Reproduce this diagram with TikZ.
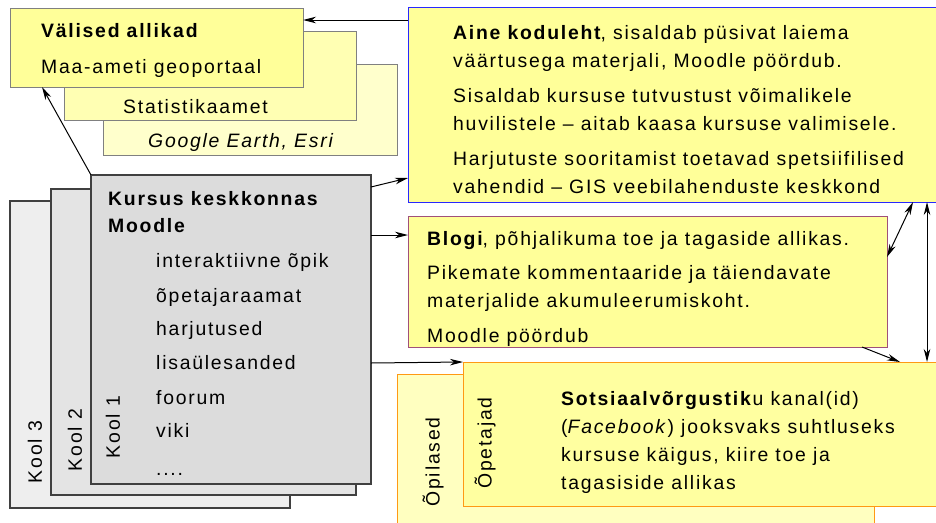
\documentclass[tikz,border=0pt]{standalone}
\usepackage{fontspec}
\setmainfont{Liberation Sans}[LetterSpace=9]
\usetikzlibrary{arrows.meta}
\definecolor{yelA}{RGB}{255,255,153}
\definecolor{yelB}{RGB}{255,255,179}
\definecolor{yelC}{RGB}{255,255,204}
\definecolor{yelO}{RGB}{255,255,160}
\definecolor{yelP}{RGB}{255,255,192}
\definecolor{grayln}{RGB}{128,128,128}
\definecolor{blueln}{RGB}{40,40,255}
\definecolor{pinkln}{RGB}{160,80,122}
\definecolor{orangeln}{RGB}{255,153,20}
\definecolor{koolA}{RGB}{220,220,220}
\definecolor{koolB}{RGB}{228,228,228}
\definecolor{koolC}{RGB}{238,238,238}
\definecolor{koolln}{RGB}{64,64,64}
\tikzset{
  boxnd/.style={anchor=north west, inner sep=0pt, outer sep=0pt, line width=1pt},
  koolbox/.style={boxnd, draw=koolln, line width=1.5pt},
  txt/.style={anchor=base west, inner sep=0pt, font=\fontsize{19.4}{23}\selectfont},
  rtxt/.style={anchor=center, inner sep=0pt, rotate=90, font=\fontsize{19.4}{23}\selectfont},
  arr/.style={line width=1pt, -{Stealth[length=13pt,width=6.5pt,inset=4pt]}},
  dbl/.style={line width=1pt, {Stealth[length=13pt,width=6.5pt,inset=4pt]}-{Stealth[length=13pt,width=6.5pt,inset=4pt]}}
}
\begin{document}
\begin{tikzpicture}[x=1pt,y=-1pt]
\clip (0,0) rectangle (936,522);
\fill[white] (0,0) rectangle (936,522);
% external sources
\node[boxnd, draw=grayln, fill=yelC, minimum width=294pt, minimum height=91pt] (valC) at (103,64) {};
\node[boxnd, draw=grayln, fill=yelB, minimum width=292pt, minimum height=89pt] (valB) at (64,31) {};
\node[boxnd, draw=grayln, fill=yelA, minimum width=293pt, minimum height=79pt] (valA) at (10,8) {};
\node[txt] (tval1) at (41,37) {\textbf{Välised allikad}};
\node[txt] (tval2) at (41,73) {Maa-ameti geoportaal};
\node[txt] (tstat) at (123,113) {Statistikaamet};
\node[txt] (tgoog) at (148,147) {\textit{Google Earth, Esri}};
% home page
\node[boxnd, draw=blueln, fill=yelA, minimum width=532pt, minimum height=195pt] (aine) at (408,7) {};
\node[txt] (ta1) at (453,39) {\textbf{Aine koduleht}, sisaldab püsivat laiema};
\node[txt] (ta2) at (453,67) {väärtusega materjali, Moodle pöördub.};
\node[txt] (ta3) at (453,102) {Sisaldab kursuse tutvustust võimalikele};
\node[txt] (ta4) at (453,130) {huvilistele – aitab kaasa kursuse valimisele.};
\node[txt] (ta5) at (453,165) {Harjutuste sooritamist toetavad spetsiifilised};
\node[txt] (ta6) at (453,193) {vahendid – GIS veebilahenduste keskkond};
% blog
\node[boxnd, draw=pinkln, fill=yelA, minimum width=479pt, minimum height=131pt] (blog) at (408,216) {};
\node[txt] (tb1) at (427,245) {\textbf{Blogi}, põhjalikuma toe ja tagaside allikas.};
\node[txt] (tb2) at (427,279) {Pikemate kommentaaride ja täiendavate};
\node[txt] (tb3) at (427,307) {materjalide akumuleerumiskoht.};
\node[txt] (tb4) at (427,342) {Moodle pöördub};
% social network
\node[boxnd, draw=orangeln, fill=yelP, minimum width=477pt, minimum height=160pt] (opil) at (397,374) {};
\node[boxnd, draw=orangeln, fill=yelO, minimum width=477pt, minimum height=144pt] (ope) at (463,362) {};
\node[rtxt] (topil) at (433,462) {Õpilased};
\node[rtxt] (tope) at (485,443) {Õpetajad};
\node[txt] (ts1) at (561,405) {\textbf{Sotsiaalvõrgustik}u kanal(id)};
\node[txt] (ts2) at (561,433) {(\textit{Facebook}) jooksvaks suhtluseks};
\node[txt] (ts3) at (561,461) {kursuse käigus, kiire toe ja};
\node[txt] (ts4) at (561,489) {tagasiside allikas};
% schools
\node[koolbox, fill=koolC, minimum width=280pt, minimum height=307pt] (k3) at (10,201) {};
\node[koolbox, fill=koolB, minimum width=305pt, minimum height=306pt] (k2) at (51,189) {};
\node[koolbox, fill=koolA, minimum width=280pt, minimum height=309pt] (k1) at (91,175) {};
\node[rtxt] (tk3) at (35,452) {Kool 3};
\node[rtxt] (tk2) at (75,440) {Kool 2};
\node[rtxt] (tk1) at (113,427) {Kool 1};
\node[txt] (tkt1) at (108,205) {\textbf{Kursus keskkonnas}};
\node[txt] (tkt2) at (108,232) {\textbf{Moodle}};
\node[txt] (ti1) at (156,267) {interaktiivne õpik};
\node[txt] (ti2) at (156,302) {õpetajaraamat};
\node[txt] (ti3) at (156,335) {harjutused};
\node[txt] (ti4) at (156,369) {lisaülesanded};
\node[txt] (ti5) at (156,404) {foorum};
\node[txt] (ti6) at (156,437) {viki};
\node[txt] (ti7) at (156,475) {....};
% connectors
\draw[arr] ([yshift=-13pt]aine.north west) -- ([yshift=-12pt]valA.north east);
\draw[arr] (k1.north west) -- ([xshift=32pt]valA.south west);
\draw[arr] ([yshift=-12pt]k1.north east) -- ([yshift=24pt]aine.south west);
\draw[arr] ([yshift=-60pt]k1.north east) -- ([yshift=-19pt]blog.north west);
\draw[arr] ([yshift=-188pt]k1.north east) -- (ope.north west);
\draw[dbl] ([xshift=505pt]aine.south west) -- ([yshift=-41pt]blog.north east);
\draw[dbl] ([xshift=519pt]aine.south west) -- ([xshift=464pt]ope.north west);
\draw[arr] ([xshift=-25pt]blog.south east) -- ([xshift=437pt]ope.north west);
\end{tikzpicture}
\end{document}
